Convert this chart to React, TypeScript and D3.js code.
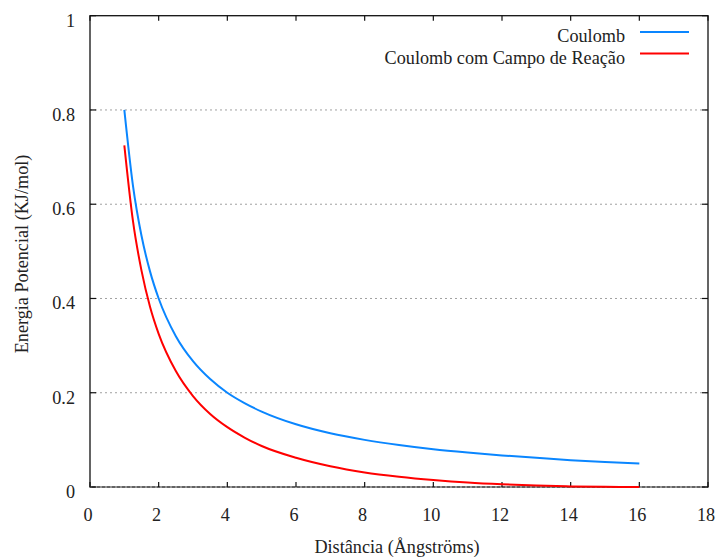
import React from "react";
import * as d3 from "d3";

const distances = [1, 1.25, 1.5, 1.75, 2, 2.5, 3, 3.5, 4, 4.5, 5, 6, 7, 8, 9, 10, 11, 12, 13, 14, 15, 16];
const coulomb = [0.8, 0.64, 0.533, 0.457, 0.4, 0.32, 0.267, 0.229, 0.2, 0.178, 0.16, 0.133, 0.114, 0.1, 0.089, 0.08, 0.073, 0.067, 0.062, 0.057, 0.053, 0.05];
const coulombRF = [0.725, 0.565, 0.459, 0.382, 0.325, 0.246, 0.193, 0.155, 0.127, 0.105, 0.087, 0.062, 0.044, 0.031, 0.022, 0.015, 0.0095, 0.0057, 0.003, 0.0013, 0.0003, 0];
const xTicks = [0, 2, 4, 6, 8, 10, 12, 14, 16, 18];
const yTicks = [0, 0.2, 0.4, 0.6, 0.8, 1];
const seriesNames = ["Coulomb", "Coulomb com Campo de Reação"];
const seriesColors = ["#0a86ff", "#ff0000"];

const W = 719;
const H = 557;
const left = 90, right = 708, top = 15.7, bottom = 487;
const font = "'Liberation Serif', 'Times New Roman', serif";
const fs = 18.2;

export default function App() {
  const x = d3.scaleLinear().domain([0, 18]).range([left, right]);
  const y = d3.scaleLinear().domain([0, 1]).range([bottom, top]);
  const line = d3
    .line<[number, number]>()
    .x((d) => x(d[0]))
    .y((d) => y(d[1]))
    .curve(d3.curveMonotoneX);
  const series = [coulomb, coulombRF].map((vals) => distances.map((d, i) => [d, vals[i]] as [number, number]));

  return (
    <svg width={W} height={H} style={{ position: "absolute", left: 0, top: 0, background: "#fff" }} fontFamily={font}>
      {/* grid */}
      {yTicks.filter((t) => t < 1).map((t) => (
        <line key={"g" + t} x1={left} x2={right} y1={y(t)} y2={y(t)} stroke="#a0a0a0" strokeWidth={1} strokeDasharray="2,3" />
      ))}
      {/* border */}
      <rect x={left} y={top} width={right - left} height={bottom - top} fill="none" stroke="#111" strokeWidth={1.3} />
      <line x1={left} x2={right} y1={bottom} y2={bottom} stroke="#aaa" strokeWidth={1.3} strokeDasharray="2,3" />
      {/* x ticks */}
      {xTicks.map((t) => (
        <g key={"x" + t}>
          <line x1={x(t)} x2={x(t)} y1={bottom} y2={bottom - 5} stroke="#111" strokeWidth={1.2} />
          <line x1={x(t)} x2={x(t)} y1={top} y2={top + 5} stroke="#111" strokeWidth={1.2} />
          <text x={x(t) - 2} y={521} textAnchor="middle" fontSize={fs} fill="#222">
            {t}
          </text>
        </g>
      ))}
      {/* y ticks */}
      {yTicks.map((t) => (
        <g key={"y" + t}>
          <line x1={left} x2={left + 6} y1={y(t)} y2={y(t)} stroke="#111" strokeWidth={1.2} />
          <line x1={right} x2={right - 6} y1={y(t)} y2={y(t)} stroke="#111" strokeWidth={1.2} />
          <text x={75} y={y(t) + 11} textAnchor="end" fontSize={fs} fill="#222">
            {t === 0 || t === 1 ? String(t) : t.toFixed(1)}
          </text>
        </g>
      ))}
      {/* series */}
      {series.map((s, i) => (
        <path key={"s" + i} d={line(s) || ""} fill="none" stroke={seriesColors[i]} strokeWidth={2} />
      ))}
      {/* legend */}
      {seriesNames.map((n, i) => (
        <g key={"l" + i}>
          <text x={625} y={41.7 + i * 22.3} textAnchor="end" fontSize={fs} fill="#222">
            {n}
          </text>
          <line x1={640} x2={689} y1={32 + i * 21.5} y2={32 + i * 21.5} stroke={seriesColors[i]} strokeWidth={2} />
        </g>
      ))}
      {/* axis labels */}
      <text x={397} y={553} textAnchor="middle" fontSize={fs} fill="#222">
        Distância (Ångströms)
      </text>
      <text transform={`translate(28.3,254) rotate(-90)`} textAnchor="middle" fontSize={fs} fill="#222">
        Energia Potencial (KJ/mol)
      </text>
    </svg>
  );
}
